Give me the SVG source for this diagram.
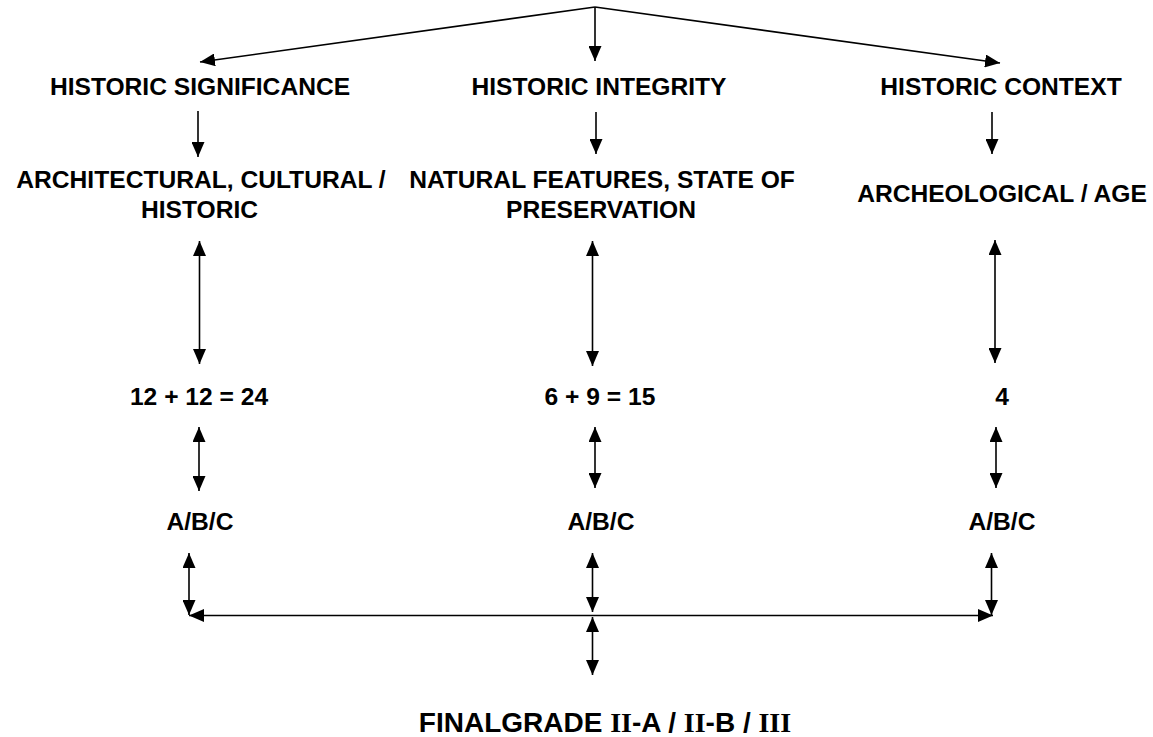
<svg xmlns="http://www.w3.org/2000/svg" width="1153" height="737" viewBox="0 0 1153 737">
<style>
.t{font-family:"Liberation Sans",Arial,sans-serif;font-weight:bold;font-size:24.6px;fill:#000;text-anchor:middle}
.f{font-size:28px}
.r{font-family:"Liberation Serif","Times New Roman",serif}
.c{stroke:#000;stroke-width:1.6;fill:none}
.a{marker-end:url(#ah)}
.d{marker-start:url(#ah);marker-end:url(#ah)}
</style>
<defs>
<marker id="ah" markerUnits="userSpaceOnUse" markerWidth="15" markerHeight="13" viewBox="0 0 15 13" refX="15" refY="6.5" orient="auto-start-reverse">
<path d="M0,0 L15,6.5 L0,13 z" fill="#000"/>
</marker>
</defs>
<rect width="1153" height="737" fill="#fff"/>
<g id="connectors">
<line class="c a" x1="595" y1="7" x2="200" y2="62"/>
<line class="c a" x1="595" y1="7" x2="595" y2="61"/>
<line class="c a" x1="595" y1="7" x2="1000" y2="63"/>
<line class="c a" x1="198" y1="111" x2="198" y2="157"/>
<line class="c a" x1="596" y1="112" x2="596" y2="154"/>
<line class="c a" x1="992" y1="112" x2="992" y2="154"/>
<line class="c d" x1="199.5" y1="241" x2="199.5" y2="364"/>
<line class="c d" x1="592.5" y1="241" x2="592.5" y2="366"/>
<line class="c d" x1="995" y1="240" x2="995" y2="363"/>
<line class="c d" x1="199" y1="427" x2="199" y2="491"/>
<line class="c d" x1="595" y1="427" x2="595" y2="488"/>
<line class="c d" x1="996" y1="427" x2="996" y2="488"/>
<line class="c d" x1="189" y1="553" x2="189" y2="615"/>
<line class="c d" x1="592.5" y1="553" x2="592.5" y2="612"/>
<line class="c d" x1="991.5" y1="553" x2="991.5" y2="615"/>
<line class="c d" x1="189" y1="615.5" x2="993" y2="615.5"/>
<line class="c d" x1="592.5" y1="617" x2="592.5" y2="675"/>
</g>
<g id="n-significance"><text class="t" x="200" y="95">HISTORIC SIGNIFICANCE</text></g>
<g id="n-integrity"><text class="t" x="599" y="95">HISTORIC INTEGRITY</text></g>
<g id="n-context"><text class="t" x="1001" y="95">HISTORIC CONTEXT</text></g>
<g id="n-architectural"><text class="t" x="201" y="188">ARCHITECTURAL, CULTURAL /</text><text class="t" x="199.5" y="218">HISTORIC</text></g>
<g id="n-natural"><text class="t" x="602" y="188">NATURAL FEATURES, STATE OF</text><text class="t" x="601" y="218">PRESERVATION</text></g>
<g id="n-archeological"><text class="t" x="1002" y="202">ARCHEOLOGICAL / AGE</text></g>
<g id="n-score1"><text class="t" x="199" y="405">12 + 12 = 24</text></g>
<g id="n-score2"><text class="t" x="600" y="405">6 + 9 = 15</text></g>
<g id="n-score3"><text class="t" x="1002" y="405">4</text></g>
<g id="n-grade1"><text class="t" x="200" y="529.5">A/B/C</text></g>
<g id="n-grade2"><text class="t" x="601" y="529.5">A/B/C</text></g>
<g id="n-grade3"><text class="t" x="1002" y="529.5">A/B/C</text></g>
<g id="n-final"><text class="t f" x="605" y="732">FINALGRADE <tspan class="r">II</tspan>-A / <tspan class="r">II</tspan>-B / <tspan class="r">III</tspan></text></g>
</svg>
